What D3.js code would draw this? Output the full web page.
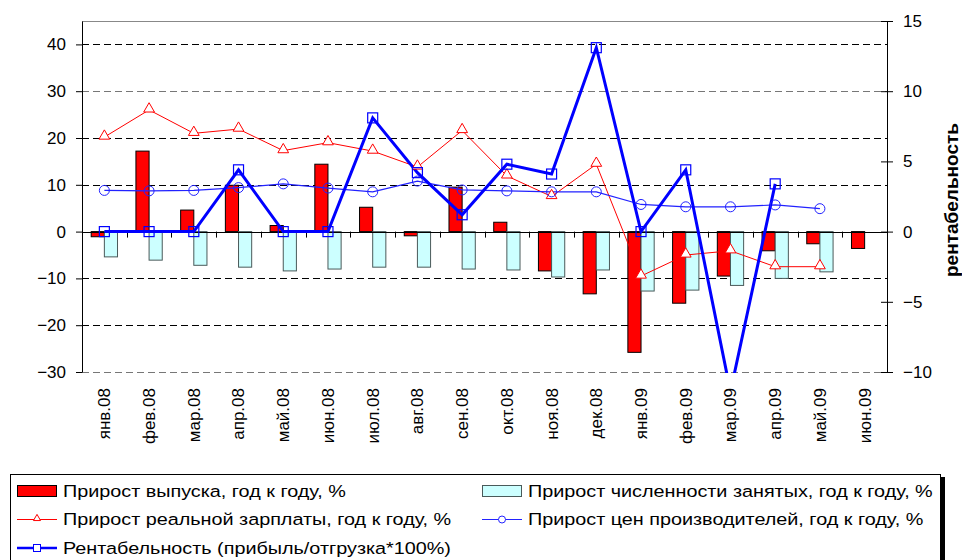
<!DOCTYPE html>
<html lang="ru">
<head>
<meta charset="utf-8">
<title>Прирост выпуска и рентабельность</title>
<script src="https://cdn.jsdelivr.net/npm/d3@7/dist/d3.min.js"></script>
<style>
  body { margin: 0; background: #fff; }
  svg { display: block; font-family: "Liberation Sans", Arial, sans-serif; }
</style>
</head>
<body>
<svg id="chart" width="962" height="560"></svg>
<script>
// data
var months = ["янв.08","фев.08","мар.08","апр.08","май.08","июн.08","июл.08","авг.08","сен.08",
              "окт.08","ноя.08","дек.08","янв.09","фев.09","мар.09","апр.09","май.09","июн.09"];
var output     = [-1.1, 17.2, 4.6, 9.9, 1.3, 14.4, 5.2, -0.9, 9.5, 2.0, -8.4, -13.3, -25.8, -15.3, -9.5, -4.1, -2.6, -3.6];
var employment = [-5.4, -6.1, -7.2, -7.6, -8.4, -8.0, -7.6, -7.6, -8.0, -8.2, -9.7, -8.2, -12.7, -12.5, -11.5, -10.0, -8.6, null];
var wages      = [20.2, 26.0, 21.0, 21.9, 17.3, 19.0, 17.2, 13.8, 21.6, 11.9, 7.5, 14.4, -9.5, -5.0, -4.1, -7.5, -7.5, null];
var prices     = [8.8, 8.7, 8.8, 9.4, 10.2, 9.3, 8.5, 10.8, 8.9, 8.7, 8.5, 8.5, 5.8, 5.3, 5.3, 5.7, 4.9, null];
var profit     = [0, 0, 0, 4.4, 0, 0, 8.1, 4.2, 1.2, 4.8, 4.1, 13.1, 0, 4.4, -11.4, 3.4, null, null];

var leftTicks  = [-30, -20, -10, 0, 10, 20, 30, 40];
var rightTicks = [-10, -5, 0, 5, 10, 15];
var rightTitle = "рентабельность";
var legendNames = ["Прирост выпуска, год к году, %", "Прирост численности занятых, год к году, %",
                   "Прирост реальной зарплаты, год к году, %", "Прирост цен производителей, год к году, %",
                   "Рентабельность (прибыль/отгрузка*100%)"];

var svg = d3.select("#chart");
var plot = {left: 82, right: 887, top: 21, bottom: 372};
var fs = 17;

var x = d3.scaleBand().domain(months).range([plot.left, plot.right]).padding(0);
var xSub = d3.scaleBand().domain(["out", "emp"]).range([0, x.bandwidth()])
             .paddingInner(0).paddingOuter(0.7);
var yL = d3.scaleLinear().domain([-30, 45]).range([plot.bottom, plot.top]);
var yR = d3.scaleLinear().domain([-10, 15]).range([plot.bottom, plot.top]);
var cx = function(i) { return x(months[i]) + x.bandwidth() / 2; };
var pairs = function(vals) { return vals.map((d, i) => [d, i]).filter(d => d[0] != null); };

svg.append("clipPath").attr("id", "clip").append("rect")
   .attr("x", plot.left).attr("y", plot.top)
   .attr("width", plot.right - plot.left).attr("height", plot.bottom - plot.top + 1);

// gridlines
svg.append("g").selectAll("line").data(leftTicks).enter().append("line")
   .attr("x1", plot.left).attr("x2", plot.right)
   .attr("y1", d => Math.round(yL(d)) + 0.5).attr("y2", d => Math.round(yL(d)) + 0.5)
   .attr("stroke", d => (d == -30 || d == 30) ? "#777" : "#000")
   .attr("stroke-dasharray", "7,4");

// plot top border
svg.append("line").attr("x1", plot.left).attr("x2", plot.right)
   .attr("y1", plot.top + 0.5).attr("y2", plot.top + 0.5).attr("stroke", "#888");

// bars
var bars = svg.append("g");
bars.selectAll(".out").data(pairs(output)).enter().append("rect")
    .attr("x", d => x(months[d[1]]) + xSub("out"))
    .attr("width", xSub.bandwidth())
    .attr("y", d => yL(Math.max(0, d[0])))
    .attr("height", d => Math.abs(yL(d[0]) - yL(0)))
    .attr("fill", "#ff0000").attr("stroke", "#000").attr("stroke-width", 1);
bars.selectAll(".emp").data(pairs(employment)).enter().append("rect")
    .attr("x", d => x(months[d[1]]) + xSub("emp"))
    .attr("width", xSub.bandwidth())
    .attr("y", d => yL(Math.max(0, d[0])))
    .attr("height", d => Math.abs(yL(d[0]) - yL(0)))
    .attr("fill", "#ccffff").attr("stroke", "#4a5a5a").attr("stroke-width", 1);

// category axis on zero
svg.append("line").attr("x1", plot.left).attr("x2", plot.right)
   .attr("y1", Math.round(yL(0)) + 0.5).attr("y2", Math.round(yL(0)) + 0.5).attr("stroke", "#000");
svg.append("g").selectAll("line").data(months.slice(1)).enter().append("line")
   .attr("x1", d => Math.round(x(d)) + 0.5).attr("x2", d => Math.round(x(d)) + 0.5)
   .attr("y1", yL(0)).attr("y2", yL(0) + 6).attr("stroke", "#000");

svg.append("g").selectAll("text").data(months).enter().append("text")
   .attr("transform", (d, i) => "translate(" + cx(i) + ",388) rotate(-90)")
   .attr("text-anchor", "end").attr("dy", "0.35em")
   .style("font-size", fs + "px").text(d => d);

// left axis
var ga = svg.append("g").attr("transform", "translate(" + plot.left + ",0)")
   .call(d3.axisLeft(yL).tickValues(leftTicks).tickSize(6).tickSizeOuter(0).tickPadding(10));
ga.attr("font-family", null).attr("font-size", fs);
ga.selectAll("path,line").attr("stroke", "#000");

// right axis
var gr = svg.append("g").attr("transform", "translate(" + plot.right + ",0)")
   .call(d3.axisRight(yR).tickValues(rightTicks).tickSize(6).tickSizeOuter(0).tickPadding(10));
gr.attr("font-family", null).attr("font-size", fs);
gr.selectAll("path,line").attr("stroke", "#000");
gr.selectAll(".tick").append("line").attr("x1", -6).attr("x2", 0).attr("stroke", "#000");

svg.append("text")
   .attr("transform", "translate(951,200) rotate(-90)")
   .attr("text-anchor", "middle").attr("dy", "0.35em")
   .style("font-size", "19px").style("font-weight", "bold").text(rightTitle);

// lines
var lines = svg.append("g").attr("clip-path", "url(#clip)");
function drawLine(vals, y, color, width) {
  var line = d3.line().defined(d => d != null).x((d, i) => cx(i)).y(d => y(d));
  lines.append("path").datum(vals).attr("d", line)
       .attr("fill", "none").attr("stroke", color).attr("stroke-width", width);
}
drawLine(wages, yL, "#ff0000", 1);
drawLine(prices, yL, "#2222ff", 1.2);
drawLine(profit, yR, "#0000ff", 3);

var marks = svg.append("g");
var tri = d3.symbol().type(d3.symbolTriangle).size(50);
marks.selectAll(".tri").data(pairs(wages)).enter()
     .append("path").attr("d", tri)
     .attr("transform", d => "translate(" + cx(d[1]) + "," + (yL(d[0]) - 1) + ")")
     .attr("fill", "#fff").attr("stroke", "#ff0000");
marks.selectAll(".circ").data(pairs(prices)).enter()
     .append("circle").attr("cx", d => cx(d[1])).attr("cy", d => yL(d[0])).attr("r", 5)
     .attr("fill", "none").attr("stroke", "#2222ff");
marks.selectAll(".sq").data(pairs(profit).filter(d => d[0] >= -10)).enter()
     .append("rect").attr("x", d => cx(d[1]) - 5).attr("y", d => yR(d[0]) - 5)
     .attr("width", 10).attr("height", 10)
     .attr("fill", "none").attr("stroke", "#0000ff").attr("stroke-width", 1.2);

// legend
var lg = svg.append("g");
lg.append("rect").attr("x", 941).attr("y", 477).attr("width", 4).attr("height", 90).attr("fill", "#000");
lg.append("rect").attr("x", 10.5).attr("y", 474.5).attr("width", 930).attr("height", 100)
  .attr("fill", "#fff").attr("stroke", "#000");

var colX = [17, 482], rowY = [491, 519.5, 548];
var items = [
  {kind: "bar", fill: "#ff0000", stroke: "#000", col: 0, row: 0},
  {kind: "bar", fill: "#ccffff", stroke: "#4a5a5a", col: 1, row: 0},
  {kind: "tri", color: "#ff0000", col: 0, row: 1},
  {kind: "circ", color: "#2222ff", col: 1, row: 1},
  {kind: "sq", color: "#0000ff", col: 0, row: 2}
];
items.forEach(function(it, k) {
  var x0 = colX[it.col], yc = rowY[it.row];
  if (it.kind == "bar") {
    lg.append("rect").attr("x", x0 + 0.5).attr("y", yc - 5.5).attr("width", 39).attr("height", 11)
      .attr("fill", it.fill).attr("stroke", it.stroke);
  } else {
    lg.append("line").attr("x1", x0).attr("x2", x0 + 40).attr("y1", yc).attr("y2", yc)
      .attr("stroke", it.color).attr("stroke-width", it.kind == "sq" ? 2.5 : 1.2);
    if (it.kind == "tri")
      lg.append("path").attr("d", d3.symbol().type(d3.symbolTriangle).size(22))
        .attr("transform", "translate(" + (x0 + 20) + "," + (yc - 1) + ")")
        .attr("fill", "#fff").attr("stroke", it.color);
    if (it.kind == "circ")
      lg.append("circle").attr("cx", x0 + 20).attr("cy", yc).attr("r", 3.5)
        .attr("fill", "#fff").attr("stroke", it.color);
    if (it.kind == "sq")
      lg.append("rect").attr("x", x0 + 16.5).attr("y", yc - 3.5).attr("width", 7).attr("height", 7)
        .attr("fill", "#fff").attr("stroke", it.color);
  }
  // legend text is drawn horizontally stretched in the original
  lg.append("text").attr("transform", "translate(" + (x0 + 46) + "," + yc + ") scale(1.165,1)")
    .attr("dy", "0.35em")
    .style("font-size", fs + "px").text(legendNames[k]);
});
</script>
</body>
</html>
